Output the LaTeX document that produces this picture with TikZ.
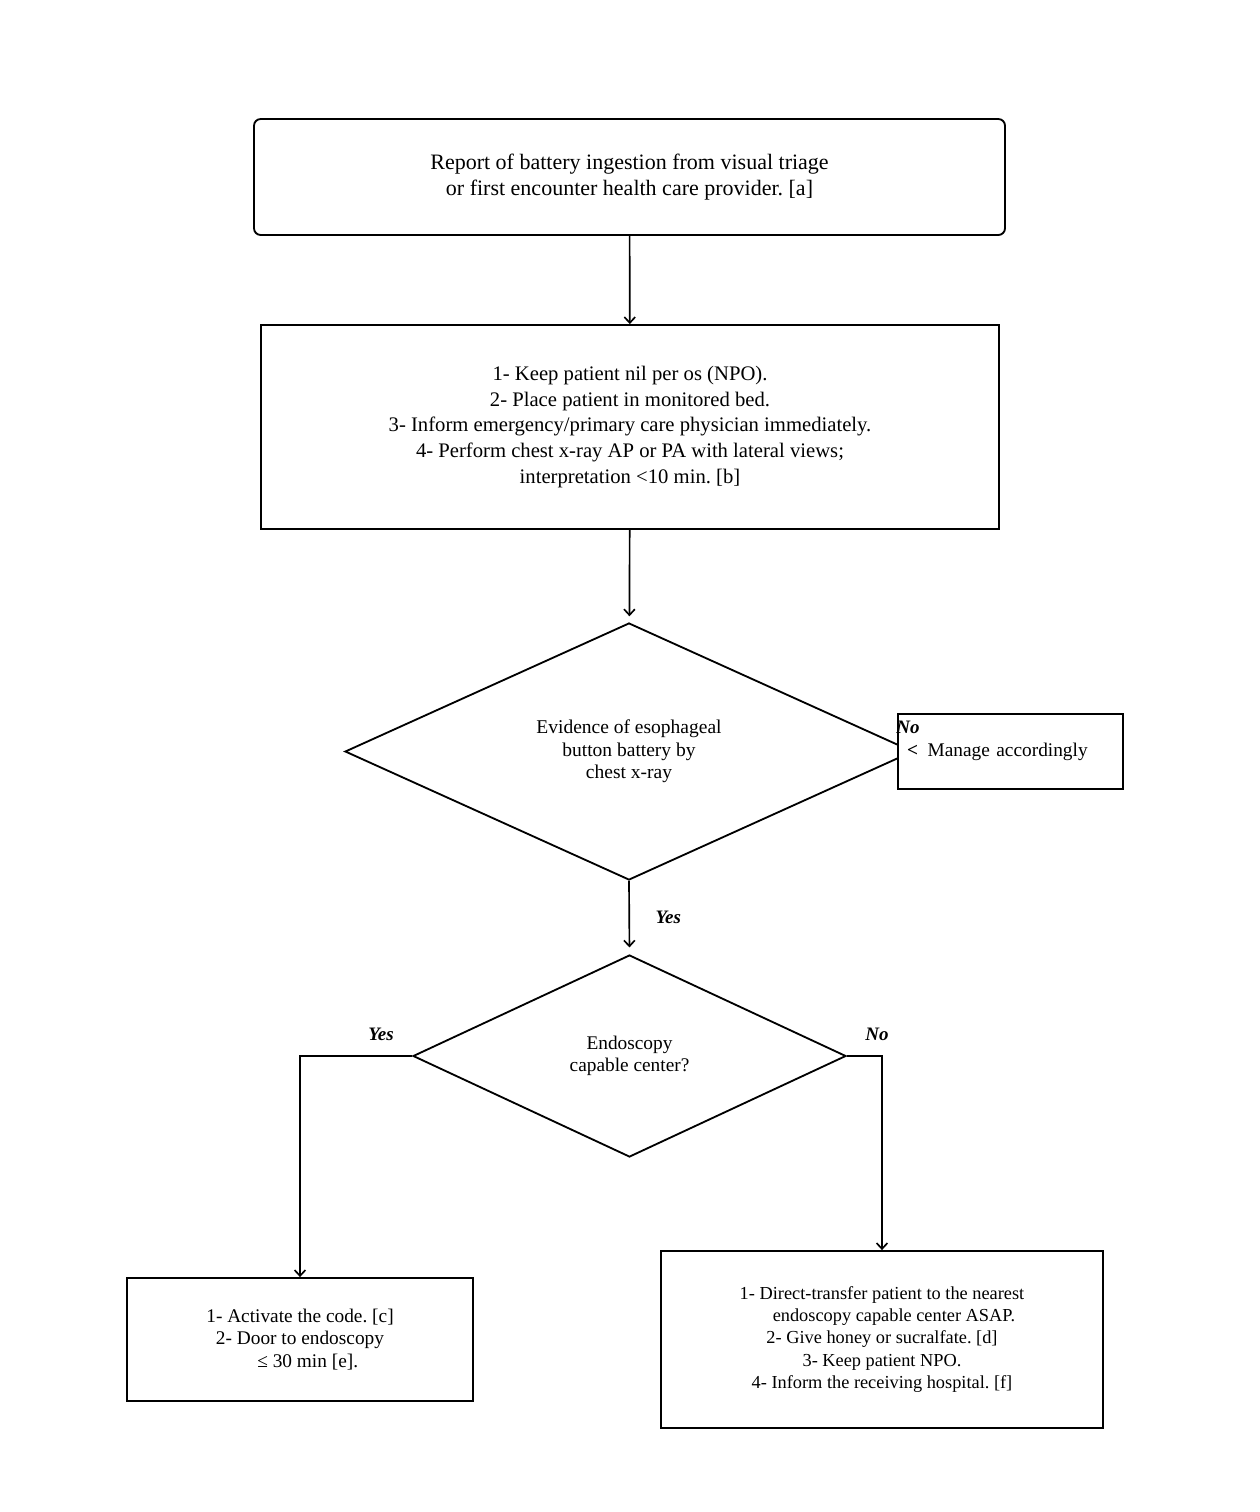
\documentclass[tikz,border=0pt]{standalone}
\usepackage{fontspec}
\setmainfont{Liberation Serif}
\usetikzlibrary{positioning, shapes.geometric, arrows.meta}
\frenchspacing

\tikzset{
  box/.style={draw, line width=1.1pt, align=center, inner sep=0pt, fill=white},
  decision/.style={draw, diamond, line width=1.1pt, align=center, inner sep=0pt, aspect=1},
  arr/.style={line width=1pt, -{Straight Barb[length=3.5pt, width=6.5pt]}},
  answer/.style={font=\fontsize{11.4}{13}\selectfont\bfseries\itshape},
  bigtext/.style={font=\fontsize{12.4}{15.4}\selectfont},
  smalltext/.style={font=\fontsize{11}{13.3}\selectfont}
}

\begin{document}
\begin{tikzpicture}[x=0.6pt, y=-0.6pt]
                \useasboundingbox (0,0) rectangle (1259,1512);
                \node[box, font=\fontsize{13.2}{15.6}\selectfont, rounded corners=4pt, minimum width=450.6pt, minimum height=69.6pt] (report) at (629.5,177)
                    {Report of battery ingestion from visual triage\\ or first encounter health care provider. [a]};
                \node[box, bigtext, minimum width=442.8pt, minimum height=122.4pt] (steps) at (630,427)
                    {1- Keep patient nil per os (NPO).\\ 2- Place patient in monitored bed.\\
                     3- Inform emergency/primary care physician immediately.\\
                     4- Perform chest x-ray AP or PA with lateral views;\\ interpretation <10 min. [b]};
                \node[decision, font=\fontsize{11.7}{13.4}\selectfont, minimum width=340.8pt, minimum height=154.2pt] (xray) at (629,751.5)
                    {Evidence of esophageal\\ button battery by\\ chest x-ray};
                \node[box, font=\fontsize{11.6}{14}\selectfont, minimum height=45pt, text width=124.2pt, inner xsep=5.4pt, align=left] (manage) at (1010.5,751.5)
                    {\textbf{<}\enspace Manage accordingly};
                \node[answer] (noxray) at (908,727) {No};
                \node[decision, font=\fontsize{11.6}{13.4}\selectfont, minimum width=259.8pt, minimum height=121.2pt] (endo) at (629.5,1056)
                    {Endoscopy\\ capable center?};
                \node[box, font=\fontsize{11.6}{13.4}\selectfont, minimum width=207.6pt, minimum height=73.8pt] (activate) at (300,1339.5)
                    {1- Activate the code. [c]\\ 2- Door to endoscopy\\ \hspace*{0.8em}≤ 30 min [e].};
                \node[box, smalltext, minimum width=265.2pt, minimum height=106.2pt] (transfer) at (882,1339.5)
                    {1- Direct-transfer patient to the nearest\\ \hspace*{1.3em}endoscopy capable center ASAP.\\
                     2- Give honey or sucralfate. [d]\\ 3- Keep patient NPO.\\ 4- Inform the receiving hospital. [f]};

                \draw[arr] (report) -- (steps);
                \draw[arr, shorten >=3.6pt] (steps) -- (xray);
                \draw[arr, shorten >=4pt] (xray.south) -- (endo.north) node[answer, midway, right=12pt] (yesxray) {Yes};
                \draw[arr] (endo.west) -| (activate.north);
                \draw[arr] (endo.east) -| (transfer.north);
                \node[answer] (yesendo) at (381,1034) {Yes};
                \node[answer] (noendo) at (877,1034) {No};
            \end{tikzpicture}
\end{document}
